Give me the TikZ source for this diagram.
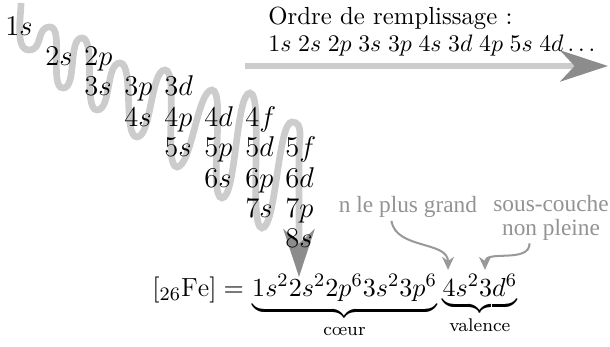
\documentclass[tikz,border=0pt]{standalone}
\usepackage{amsmath}
\usepackage{fontspec}
\newfontfamily\notefont{Liberation Serif}
\usetikzlibrary{arrows.meta, positioning}

\begin{document}
\begin{tikzpicture}[
    x=0.42pt, y=-0.42pt,
    txt/.style={anchor=base west, inner sep=0pt},
    orb/.style={txt, font=\large},
    note/.style={text=gray!85, font=\notefont\fontsize{9.8}{11}\selectfont, align=center, inner sep=1pt},
    wave/.style={draw=gray!40, line width=2.8pt},
    crest/.style={out=0, in=180, distance=6pt},
    bigtip/.style={-{Stealth[length=20pt, width=13pt, inset=6pt, color=gray!90]}},
    pointer/.style={draw=gray!80, line width=0.85pt, -{Stealth[length=5.5pt, width=5pt]}}
  ]
  \useasboundingbox (0,0) rectangle (610,347);

  % filling order arrows
  \coordinate (fillstart) at (245,66);
  \coordinate (fillend) at (608,66);
  \draw[wave, bigtip] (fillstart) -- (fillend);

  \draw[wave, bigtip] (21,3) to[out=-90, in=180, distance=6pt] (29,50)
    to[crest] (50,27) to[crest] (63,88) to[crest] (82,38) to[crest] (97,110)
    to[crest] (120,63) to[crest] (137,137) to[crest] (165,70) to[crest] (177,167)
    to[crest] (212,90) to[crest] (222,198) to[crest] (250,93) to[crest] (262,228)
    to[crest] (292,122) to[out=0, in=90, distance=5pt] (299,152) -- (299,277);

  % sub-shells
  \node[orb] (o1s) at (5,36) {$1s$};
  \node[orb] (o2s) at (45,66) {$2s$};
  \node[orb] (o2p) at (84,66) {$2p$};
  \node[orb] (o3s) at (84,96) {$3s$};
  \node[orb] (o3p) at (124,96) {$3p$};
  \node[orb] (o3d) at (164,96) {$3d$};
  \node[orb] (o4s) at (124,127) {$4s$};
  \node[orb] (o4p) at (164,127) {$4p$};
  \node[orb] (o4d) at (204,127) {$4d$};
  \node[orb] (o4f) at (245,127) {$4f$};
  \node[orb] (o5s) at (164,157) {$5s$};
  \node[orb] (o5p) at (204,157) {$5p$};
  \node[orb] (o5d) at (245,157) {$5d$};
  \node[orb] (o5f) at (285,157) {$5f$};
  \node[orb] (o6s) at (204,188) {$6s$};
  \node[orb] (o6p) at (245,188) {$6p$};
  \node[orb] (o6d) at (285,188) {$6d$};
  \node[orb] (o7s) at (245,218) {$7s$};
  \node[orb] (o7p) at (285,218) {$7p$};
  \node[orb] (o8s) at (285,248) {$8s$};

  \node[txt, font=\fontsize{10.4}{12}\selectfont] (ordre) at (268,25) {Ordre de remplissage :};
  \node[txt, font=\fontsize{10.4}{12}\selectfont] (suite) at (268,52)
    {$1s\;2s\;2p\;3s\;3p\;4s\;3d\;4p\;5s\;4d\ldots$};

  % configuration of iron
  \node[txt, font=\fontsize{11}{13}\selectfont] (lhs) at (152,297) {$[{}_{26}\mathrm{Fe}] = {}$};
  \node[base right=0pt of lhs, inner sep=0pt, font=\fontsize{11}{13}\selectfont] (core)
    {$\underbrace{1s^2 2s^2 2p^6 3s^2 3p^6}_{\text{cœur}}$};
  \node[base right=2pt of core, inner sep=0pt, font=\fontsize{11}{13}\selectfont] (valence)
    {$\underbrace{4s^2 3d^6}_{\text{valence}}$};

  \node[note, anchor=base] (nmax) at (408,213) {n le plus grand};
  \node[note] (nonfull) at (551,218) {sous-couche\\[-1pt]non pleine};

  \coordinate (ns) at ([xshift=2.5pt, yshift=1.5pt]valence.north west);
  \coordinate (nd) at ([xshift=18pt, yshift=1.5pt]valence.north west);
  \draw[pointer] ([xshift=-7pt]nmax.south) to[out=-80, in=90] (ns);
  \draw[pointer] ([xshift=-9pt]nonfull.south) to[out=-90, in=90] (nd);

\end{tikzpicture}
\end{document}
